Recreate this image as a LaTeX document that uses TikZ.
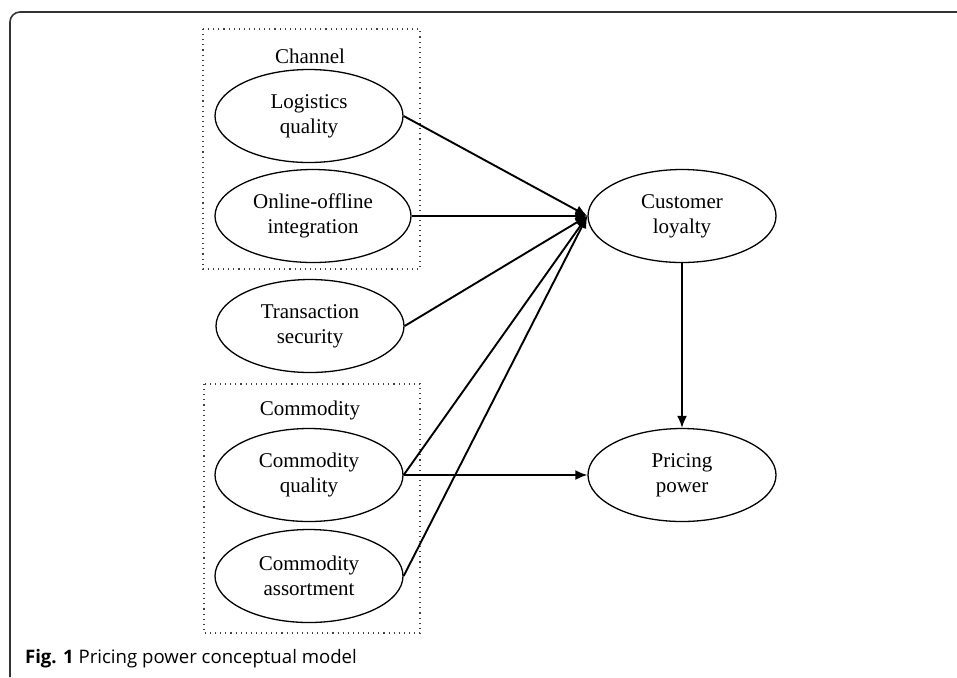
\documentclass[tikz,border=0pt]{standalone}
\usepackage{fontspec}
\setmainfont{Liberation Serif}
\newfontfamily\capfont{Open Sans}
\usetikzlibrary{arrows.meta,shapes.geometric,positioning}

\begin{document}
\begin{tikzpicture}[x=0.5pt, y=-0.5pt,
    construct/.style={draw, ellipse, line width=0.65pt, minimum width=94pt, minimum height=46.5pt,
        inner sep=0pt, align=center, font=\fontsize{10.5}{12.5}\selectfont},
    grouplabel/.style={font=\fontsize{10.5}{12.5}\selectfont},
    group/.style={draw=black!75, dotted, line width=0.55pt},
    effect/.style={line width=0.95pt, -{Latex[length=6pt,width=5pt]}}]
    \useasboundingbox (0,0) rectangle (957,677);

    % Figure frame
    \draw[line width=0.8pt, black!80, rounded corners=5pt] (957,12) -- (10,12) -- (10,677);

    % Channel group
    \draw[group] (203,29) rectangle (420,269);
    \node[grouplabel] (channel) at (310,56) {Channel};
    \node[construct] (logq) at (309,116) {Logistics\\quality};
    \node[construct, minimum width=98pt] (ooi) at (313,216) {Online-offline\\integration};

    \node[construct] (ts) at (310,326) {Transaction\\security};

    % Commodity group
    \draw[group] (204,384) rectangle (420,633);
    \node[grouplabel] (commodity) at (310,410) {Commodity};
    \node[construct] (cq) at (309,475) {Commodity\\quality};
    \node[construct] (ca) at (309,576) {Commodity\\assortment};

    % Outcomes
    \node[construct] (cl) at (682,216) {Customer\\loyalty};
    \node[construct] (pp) at (682,475) {Pricing\\power};

    \foreach \src in {logq,ooi,ts,cq,ca} {
        \draw[effect] (\src.east) -- (cl.west);
    }
    \draw[effect] (cq.east) -- (pp.west);
    \draw[effect] (cl.south) -- (pp.north);

    % Caption
    \node[anchor=west, font=\capfont\fontsize{9.3}{11}\selectfont] (caption) at (18,659)
        {\textbf{Fig. 1} Pricing power conceptual model};
\end{tikzpicture}
\end{document}
